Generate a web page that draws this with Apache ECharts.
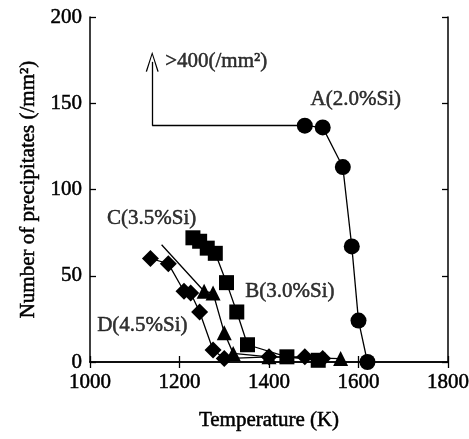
<!DOCTYPE html>
<html>
<head>
<meta charset="utf-8">
<script src="https://cdn.jsdelivr.net/npm/echarts@6/dist/echarts.min.js"></script>
<style>
html, body { margin: 0; padding: 0; background: #fff; }
#main { width: 469px; height: 439px; }
</style>
</head>
<body>
<div id="main"></div>
<script>
var chartDom = document.getElementById('main');
var myChart = echarts.init(chartDom);
var option;

// A(2.0%Si) circles
var tempA = [1480, 1520, 1565, 1585, 1600, 1620];
var numA = [137, 136, 113, 67, 24, 0];
// B(3.0%Si) squares
var tempB = [1230, 1245, 1262, 1280, 1305, 1328, 1352, 1440, 1510];
var numB = [72, 70, 66, 63, 46, 29, 10, 3, 1];
// C(3.5%Si) triangles, first point is the bare start of the line
var tempC = [1160, 1255, 1275, 1300, 1320, 1400, 1560];
var numC = [68, 41, 40, 17, 5, 3, 2];
// D(4.5%Si) diamonds
var tempD = [1135, 1175, 1210, 1225, 1245, 1275, 1300, 1400, 1480, 1520];
var numD = [60, 57, 41, 40, 29, 7, 2, 3, 3, 2];

// ">400" arrow: corner and tip
var arrowX = 1139;
var arrowTop = 174;

var labelTexts = ['A(2.0%Si)', 'C(3.5%Si)', 'B(3.0%Si)', 'D(4.5%Si)', '>400(/mm²)'];
var labelX = [1493, 1038, 1347, 1016, 1168];
var labelY = [152, 83, 41, 21, 174];

var xTicks = ['1000', '1200', '1400', '1600', '1800'];
var yTicks = ['0', '50', '100', '150', '200'];

function pairs(xs, ys) {
    return xs.map(function (x, i) { return [x, ys[i]]; });
}

var font = 'Liberation Serif';
// a bit of stroke to mimic the heavy scanned type
var ink = { fontFamily: font, fontSize: 21, color: '#000', textBorderColor: '#000', textBorderWidth: 0.5 };
var chevron = 'path://M0,20 L6,0 L12,20 L10.8,20.4 L6,3.2 L1.2,20.4 Z';

var dataC = pairs(tempC, numC);
dataC[0] = { value: dataC[0], symbol: 'none' };

function lineSeries(data, symbol, size) {
    return {
        type: 'line',
        data: data,
        symbol: symbol,
        symbolSize: size,
        showAllSymbol: true,
        lineStyle: { color: '#000', width: 1.3 },
        itemStyle: { color: '#000' },
        silent: true,
        z: 3
    };
}

var seriesA = lineSeries(pairs(tempA, numA), 'circle', 16);
seriesA.markLine = {
    silent: true,
    animation: false,
    label: { show: false },
    lineStyle: { color: '#000', width: 1.3, type: 'solid' },
    data: [
        [{ coord: [arrowX, numA[0]], symbol: 'none' }, { coord: [tempA[0], numA[0]], symbol: 'none' }],
        [{ coord: [arrowX, numA[0]], symbol: 'none' }, { coord: [arrowX, arrowTop], symbol: chevron, symbolSize: [13, 20] }]
    ]
};

option = {
    animation: false,
    backgroundColor: '#fff',
    textStyle: { fontFamily: font, color: '#000' },
    grid: { left: 90, right: 21, top: 17, bottom: 77, containLabel: false, outerBoundsMode: 'none' },
    xAxis: [{
        type: 'value',
        min: 1000,
        max: 1800,
        interval: 200,
        name: 'Temperature (K)',
        nameLocation: 'middle',
        nameGap: 48,
        nameTextStyle: ink,
        axisLine: { lineStyle: { color: '#000', width: 1.5 } },
        axisTick: { inside: true, length: 6, lineStyle: { color: '#000', width: 1.3 } },
        axisLabel: Object.assign({
            margin: 10,
            formatter: function (v) { return xTicks[(v - 1000) / 200]; }
        }, ink),
        splitLine: { show: false }
    }, {
        type: 'value',
        position: 'top',
        min: 1000,
        max: 1800,
        interval: 200,
        axisLine: { lineStyle: { color: '#000', width: 1.5 } },
        axisTick: { inside: true, length: 6, lineStyle: { color: '#000', width: 1.3 } },
        axisLabel: { show: false },
        splitLine: { show: false }
    }],
    yAxis: [{
        type: 'value',
        min: 0,
        max: 200,
        interval: 50,
        name: 'Number of precipitates (/mm²)',
        nameLocation: 'middle',
        nameGap: 50,
        nameTextStyle: ink,
        axisLine: { show: true, lineStyle: { color: '#000', width: 1.5 } },
        axisTick: { show: true, inside: true, length: 6, lineStyle: { color: '#000', width: 1.3 } },
        axisLabel: Object.assign({
            margin: 8,
            formatter: function (v) { return yTicks[v / 50]; }
        }, ink),
        splitLine: { show: false }
    }, {
        type: 'value',
        position: 'right',
        min: 0,
        max: 200,
        interval: 50,
        axisLine: { show: true, lineStyle: { color: '#000', width: 1.5 } },
        axisTick: { show: true, inside: true, length: 6, lineStyle: { color: '#000', width: 1.3 } },
        axisLabel: { show: false },
        splitLine: { show: false }
    }],
    series: [
        seriesA,
        lineSeries(pairs(tempB, numB), 'rect', 15),
        lineSeries(dataC, 'triangle', 15),
        lineSeries(pairs(tempD, numD), 'diamond', 17),
        {
            type: 'scatter',
            silent: true,
            symbolSize: 0,
            data: labelTexts.map(function (t, i) { return { value: [labelX[i], labelY[i]], name: t }; }),
            label: Object.assign({
                show: true,
                position: 'right',
                distance: 0,
                formatter: '{b}'
            }, ink),
            z: 4
        }
    ]
};

option && myChart.setOption(option);
</script>
</body>
</html>
